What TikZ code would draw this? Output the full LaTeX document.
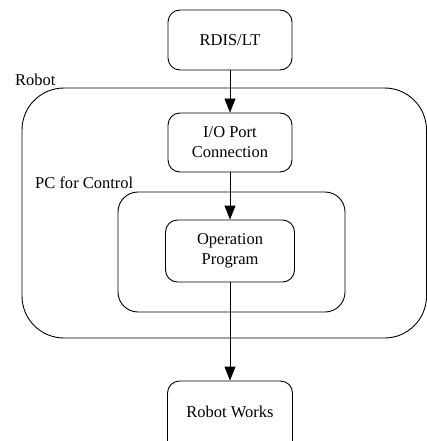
\documentclass[tikz,border=0pt]{standalone}
\usepackage{fontspec}
\setmainfont{Liberation Serif}
\usetikzlibrary{arrows.meta}
\begin{document}
\begin{tikzpicture}[x=1pt,y=1pt,
  box/.style={draw, line width=0.9pt, rounded corners=12pt, align=center,
    minimum width=124pt, inner sep=0pt, font=\fontsize{16.5}{20}\selectfont},
  lbl/.style={anchor=west, inner sep=0pt, font=\fontsize{16.5}{20}\selectfont},
  frame/.style={draw, line width=0.9pt},
  flow/.style={draw, line width=0.9pt, -{Triangle[length=14pt,width=11pt]}}]
\useasboundingbox (0,0) rectangle (427,-441);
\draw[frame, rounded corners=42pt] (22,-88) rectangle (426.5,-338);
\draw[frame, rounded corners=20pt] (118,-192) rectangle (345,-312);
\node[box, minimum height=60pt] (rdis) at (230,-40) {RDIS/LT};
\node[box, minimum height=59pt] (io) at (230,-142.5) {I/O Port\\Connection};
\node[box, minimum width=129pt, minimum height=62pt] (op) at (230,-251) {Operation\\Program};
\node[box, minimum width=125pt, minimum height=78pt] (rw) at (230,-420) {\raisebox{16pt}{Robot Works}};
\node[lbl] (robot) at (15,-80) {Robot};
\node[lbl] (pc) at (35,-183) {PC for Control};
\draw[flow] (rdis.south) -- (io.north);
\draw[flow] (io.south) -- (op.north);
\draw[flow] (op.south) -- (rw.north);
\end{tikzpicture}
\end{document}
